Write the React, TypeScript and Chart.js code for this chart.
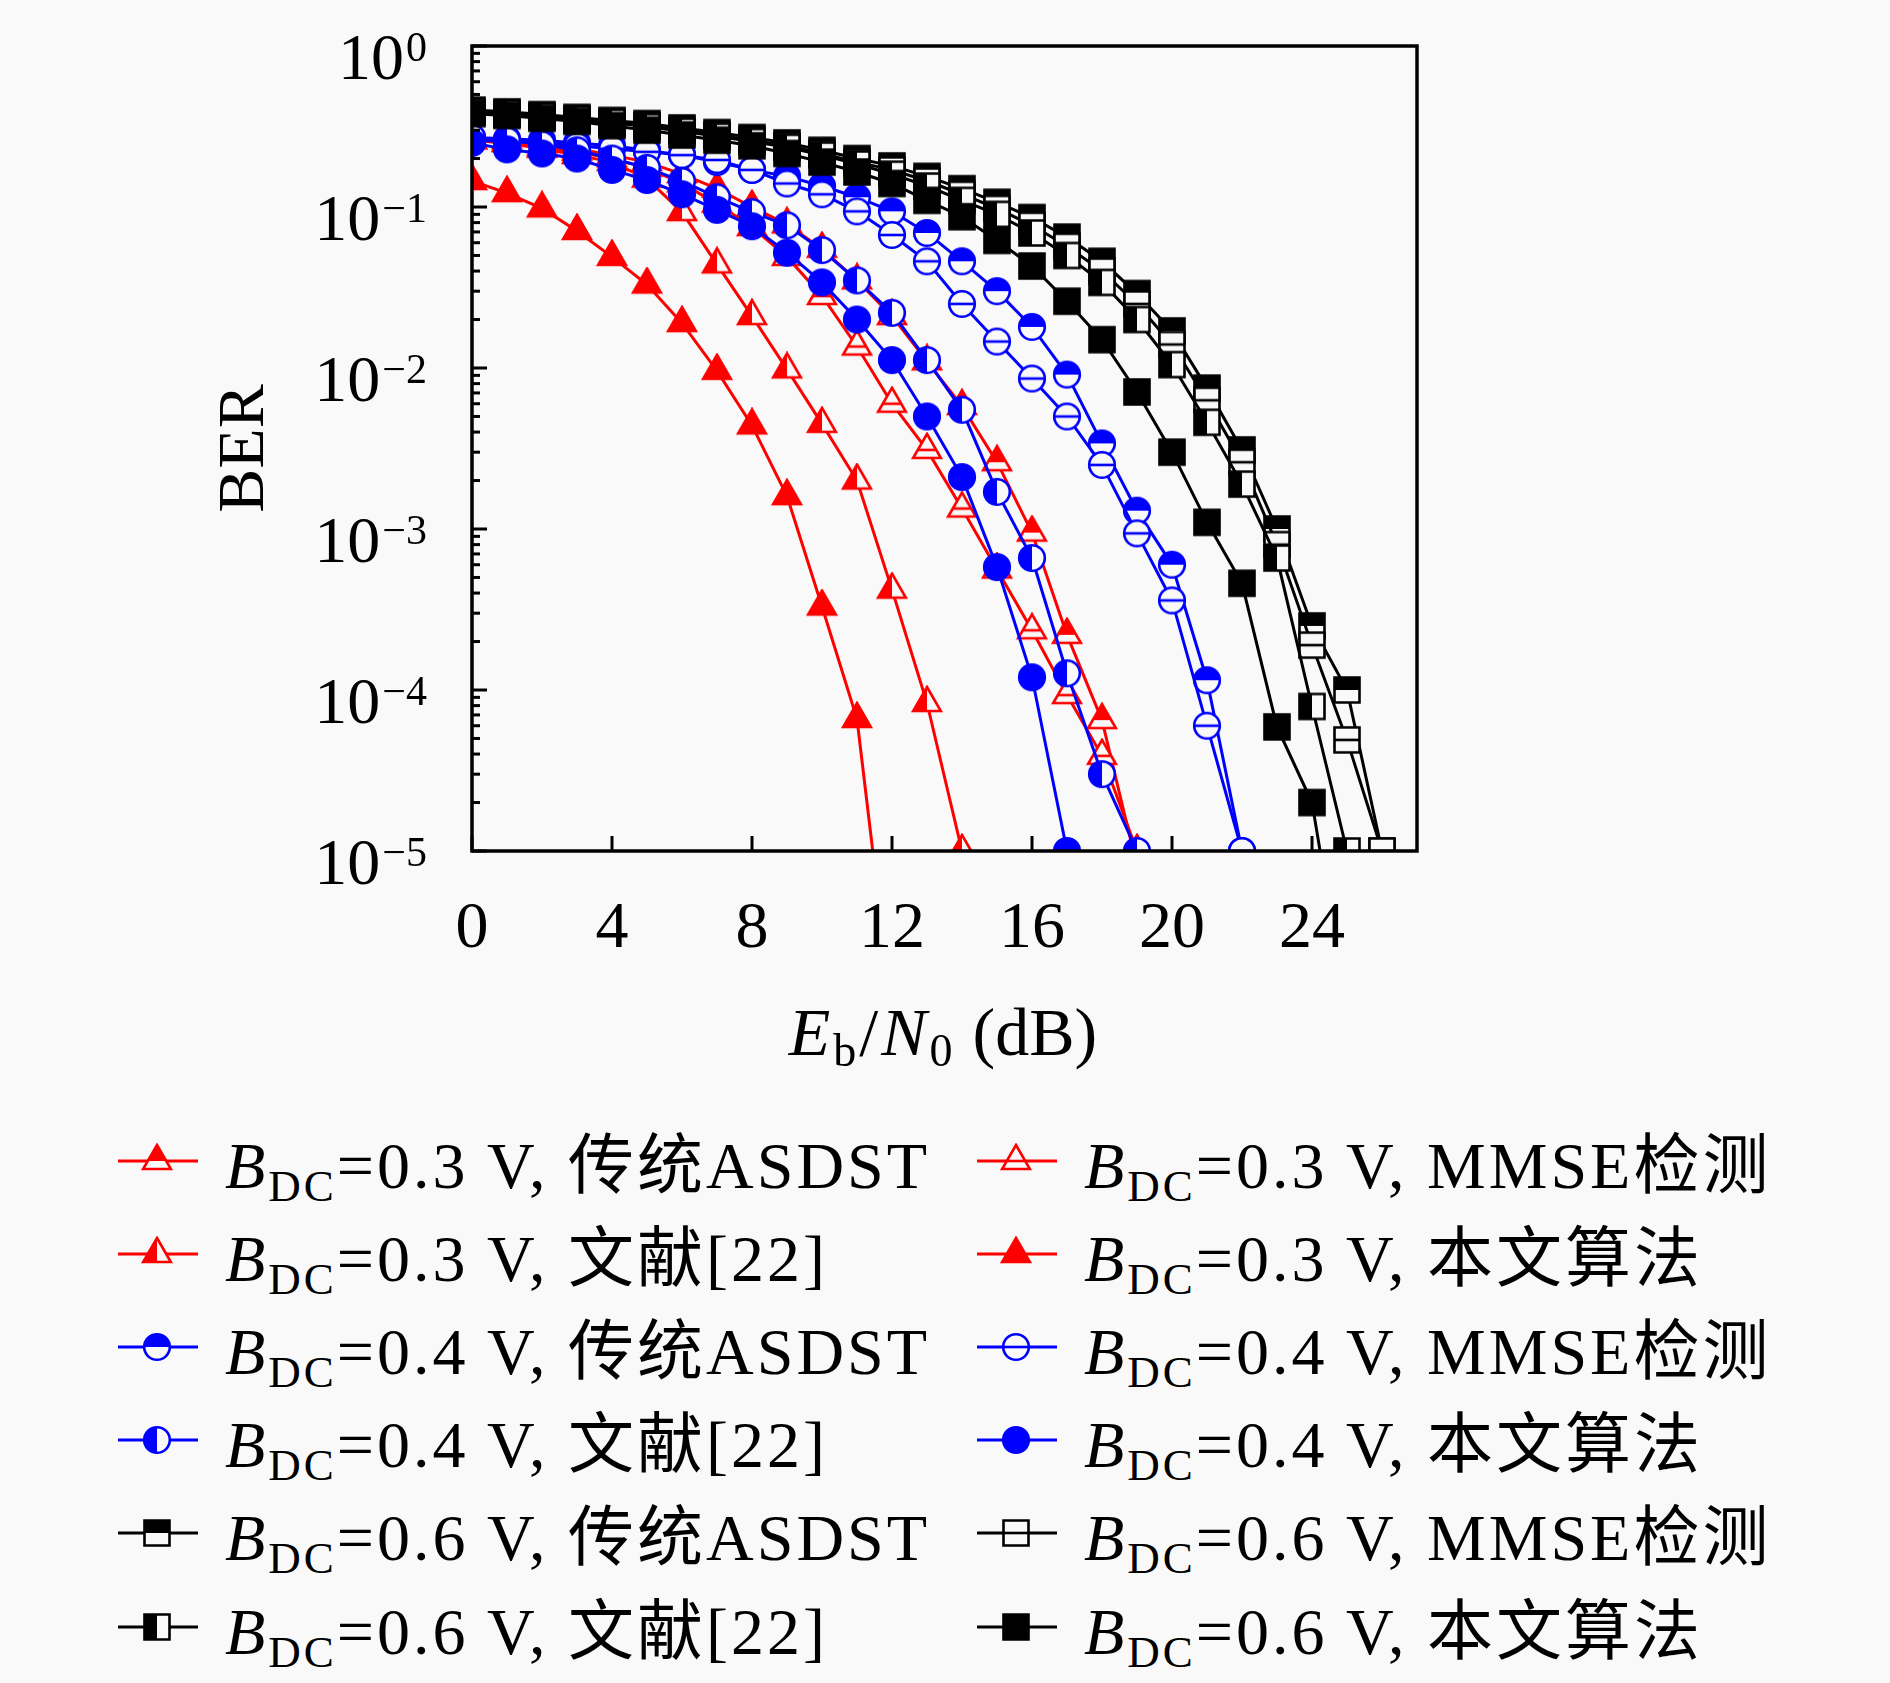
import React, { useEffect, useMemo, useRef } from 'react';
import { Chart, registerables } from 'chart.js';

Chart.register(...registerables);

// Eb/N0 grid (dB)
const snr = [0, 1, 2, 3, 4, 5, 6, 7, 8, 9, 10, 11, 12, 13, 14, 15, 16, 17, 18, 19, 20, 21, 22, 23, 24, 25, 26];
const xTicks = [0, 4, 8, 12, 16, 20, 24];
const yExps = [0, -1, -2, -3, -4, -5];

const voltages = ['0.3', '0.4', '0.6'];
const methods = ['传统ASDST', 'MMSE检测', '文献[22]', '本文算法'];

// B_DC = 0.3 V
const ber03Asdst = [0.27, 0.26, 0.245, 0.23, 0.21, 0.19, 0.16, 0.13, 0.1, 0.078, 0.055, 0.035, 0.021, 0.011, 0.0058, 0.0026, 0.00095, 0.00022, 0.000065, 0.000008];
const ber03Mmse = [0.26, 0.25, 0.235, 0.22, 0.2, 0.175, 0.14, 0.105, 0.075, 0.049, 0.028, 0.0136, 0.006, 0.0031, 0.00134, 0.00056, 0.000235, 0.000093, 0.000039, 0.00001];
const ber03Ref22 = [0.26, 0.25, 0.23, 0.21, 0.19, 0.15, 0.093, 0.044, 0.021, 0.0098, 0.0045, 0.002, 0.00042, 0.000083, 0.00001];
const ber03Prop = [0.145, 0.122, 0.098, 0.071, 0.049, 0.033, 0.019, 0.0096, 0.0044, 0.0016, 0.00033, 0.000066, 0.000001];

// B_DC = 0.4 V
const ber04Asdst = [0.27, 0.265, 0.26, 0.25, 0.24, 0.225, 0.21, 0.19, 0.17, 0.155, 0.135, 0.115, 0.094, 0.069, 0.046, 0.03, 0.018, 0.0091, 0.0034, 0.0013, 0.0006, 0.000115, 0.00001];
const ber04Mmse = [0.26, 0.255, 0.25, 0.24, 0.23, 0.22, 0.21, 0.196, 0.17, 0.14, 0.12, 0.094, 0.067, 0.046, 0.025, 0.0146, 0.0086, 0.005, 0.0025, 0.00094, 0.00036, 0.00006, 0.00001];
const ber04Ref22 = [0.27, 0.26, 0.245, 0.225, 0.2, 0.175, 0.145, 0.115, 0.093, 0.077, 0.054, 0.035, 0.022, 0.0112, 0.0055, 0.0017, 0.00066, 0.000127, 0.00003, 0.00001];
const ber04Prop = [0.25, 0.228, 0.215, 0.2, 0.17, 0.147, 0.12, 0.096, 0.076, 0.052, 0.034, 0.02, 0.0112, 0.005, 0.0021, 0.00058, 0.00012, 0.00001];

// B_DC = 0.6 V
const ber06Asdst = [0.4, 0.39, 0.375, 0.36, 0.345, 0.33, 0.31, 0.29, 0.27, 0.25, 0.225, 0.2, 0.18, 0.155, 0.13, 0.107, 0.086, 0.065, 0.046, 0.029, 0.017, 0.0075, 0.0031, 0.001, 0.00025, 0.0001, 0.00001];
const ber06Mmse = [0.39, 0.38, 0.365, 0.35, 0.335, 0.32, 0.3, 0.28, 0.26, 0.24, 0.215, 0.19, 0.17, 0.145, 0.12, 0.098, 0.077, 0.057, 0.04, 0.025, 0.014, 0.0063, 0.0026, 0.0008, 0.00019, 0.000049, 0.00001];
const ber06Ref22 = [0.39, 0.38, 0.365, 0.35, 0.335, 0.315, 0.295, 0.275, 0.255, 0.235, 0.21, 0.185, 0.16, 0.135, 0.11, 0.09, 0.069, 0.05, 0.034, 0.02, 0.0105, 0.0046, 0.0019, 0.00066, 0.000079, 0.00001];
const ber06Prop = [0.38, 0.37, 0.355, 0.34, 0.32, 0.3, 0.28, 0.26, 0.24, 0.215, 0.19, 0.165, 0.14, 0.11, 0.087, 0.062, 0.043, 0.026, 0.015, 0.0071, 0.003, 0.0011, 0.00046, 0.000059, 0.00002, 0.000001];

const berTable = [
    [ber03Asdst, ber03Mmse, ber03Ref22, ber03Prop],
    [ber04Asdst, ber04Mmse, ber04Ref22, ber04Prop],
    [ber06Asdst, ber06Mmse, ber06Ref22, ber06Prop],
];

type Shape = 'triangle' | 'circle' | 'square';
type Fill = 'top' | 'open' | 'left' | 'full';

const colors = ['#ff0000', '#0000ff', '#000000'];
const shapes: Shape[] = ['triangle', 'circle', 'square'];
const fills: Fill[] = ['top', 'open', 'left', 'full'];

const BG = '#f9f9f9';
const SERIF = '"Liberation Serif", "DejaVu Serif", serif';

function makeMarker(shape: Shape, fill: Fill, color: string): HTMLCanvasElement {
    const size = 36;
    const c = document.createElement('canvas');
    c.width = size;
    c.height = size;
    const g = c.getContext('2d')!;
    const cx = size / 2;
    const cy = size / 2;
    const path = () => {
        g.beginPath();
        if (shape === 'circle') {
            g.arc(cx, cy, 12.8, 0, Math.PI * 2);
        } else if (shape === 'square') {
            g.rect(cx - 12.5, cy - 12.5, 25, 25);
        } else {
            const r = 16;
            g.moveTo(cx, cy - r);
            g.lineTo(cx + r * Math.sin(Math.PI / 3), cy + r / 2);
            g.lineTo(cx - r * Math.sin(Math.PI / 3), cy + r / 2);
            g.closePath();
        }
    };
    path();
    g.fillStyle = BG;
    g.fill();
    g.fillStyle = color;
    if (fill === 'full') {
        path();
        g.fill();
    } else if (fill === 'top' || fill === 'left') {
        g.save();
        g.beginPath();
        if (fill === 'top') g.rect(0, 0, size, cy);
        else g.rect(0, 0, cx, size);
        g.clip();
        path();
        g.fill();
        g.restore();
    } else {
        g.save();
        path();
        g.clip();
        g.fillRect(0, cy - 1.3, size, 2.6);
        g.restore();
    }
    path();
    g.lineWidth = 2.6;
    g.strokeStyle = color;
    g.stroke();
    return c;
}

function makeIcon(shape: Shape, fill: Fill, color: string): string {
    const c = document.createElement('canvas');
    c.width = 80;
    c.height = 40;
    const g = c.getContext('2d')!;
    g.strokeStyle = color;
    g.lineWidth = 3;
    g.beginPath();
    g.moveTo(0, 20);
    g.lineTo(80, 20);
    g.stroke();
    const m = makeMarker(shape, fill, color);
    g.drawImage(m, 39 - m.width / 2, 20 - m.height / 2);
    return c.toDataURL();
}

const decorPlugin = {
    id: 'decor',
    afterDatasetsDraw(chart: any) {
        const { ctx, chartArea: a } = chart;
        const x = chart.scales.x;
        const y = chart.scales.y;
        ctx.save();
        ctx.strokeStyle = '#000';
        ctx.fillStyle = '#000';
        ctx.lineWidth = 3;
        const seg = (x1: number, y1: number, x2: number, y2: number) => {
            ctx.beginPath();
            ctx.moveTo(x1, y1);
            ctx.lineTo(x2, y2);
            ctx.stroke();
        };
        // inward ticks on the left (log minor + major)
        for (const e of yExps) {
            const py = y.getPixelForValue(Math.pow(10, e));
            seg(a.left, py, a.left + 15, py);
            if (e < 0) {
                for (let m = 2; m <= 9; m++) {
                    const pm = y.getPixelForValue(m * Math.pow(10, e));
                    seg(a.left, pm, a.left + 8, pm);
                }
            }
        }
        for (const t of xTicks) {
            const px = x.getPixelForValue(t);
            seg(px, a.bottom, px, a.bottom - 15);
        }
        ctx.lineWidth = 3.5;
        ctx.strokeRect(a.left, a.top, a.right - a.left, a.bottom - a.top);

        // tick labels
        ctx.textBaseline = 'alphabetic';
        ctx.textAlign = 'center';
        ctx.font = `66px ${SERIF}`;
        for (const t of xTicks) {
            ctx.fillText(String(t), x.getPixelForValue(t), a.bottom + 96);
        }
        ctx.textAlign = 'right';
        for (const e of yExps) {
            const py = y.getPixelForValue(Math.pow(10, e));
            const expText = e === 0 ? '0' : '\u2212' + String(-e);
            ctx.font = `42px ${SERIF}`;
            const ew = ctx.measureText(expText).width;
            const expRight = a.left - 45;
            ctx.fillText(expText, expRight, py + 15);
            ctx.font = `66px ${SERIF}`;
            ctx.fillText('10', expRight - ew - 2, py + 33);
        }

        // y title
        ctx.save();
        ctx.translate(263, (a.top + a.bottom) / 2);
        ctx.rotate(-Math.PI / 2);
        ctx.textAlign = 'center';
        ctx.font = `66px ${SERIF}`;
        ctx.fillText('BER', 0, 0);
        ctx.restore();

        // x title: E_b/N_0 (dB)
        const parts = [
            { t: 'E', f: `italic 68px ${SERIF}`, dy: 0 },
            { t: 'b', f: `46px ${SERIF}`, dy: 11 },
            { t: '/', f: `68px ${SERIF}`, dy: 0 },
            { t: 'N', f: `italic 68px ${SERIF}`, dy: 0 },
            { t: '0', f: `46px ${SERIF}`, dy: 11 },
            { t: ' (dB)', f: `68px ${SERIF}`, dy: 0 },
        ];
        ctx.textAlign = 'left';
        let w = 0;
        for (const p of parts) {
            ctx.font = p.f;
            w += ctx.measureText(p.t).width + 3;
        }
        let cx = (a.left + a.right) / 2 - w / 2;
        const base = a.bottom + 204;
        for (const p of parts) {
            ctx.font = p.f;
            ctx.fillText(p.t, cx, base + p.dy);
            cx += ctx.measureText(p.t).width + 3;
        }
        ctx.restore();
    },
};

const App: React.FC = () => {
    const chartRef = useRef<HTMLCanvasElement>(null);

    const icons = useMemo(
        () => voltages.map((_, vi) => fills.map((f) => makeIcon(shapes[vi], f, colors[vi]))),
        []
    );

    useEffect(() => {
        document.body.style.margin = '0';
        document.body.style.background = BG;
        if (!chartRef.current) return;

        const datasets: any[] = [];
        // black on top, then blue, then red (first dataset is drawn last)
        for (let vi = 2; vi >= 0; vi--) {
            for (const mi of [3, 2, 1, 0]) {
                const values = berTable[vi][mi];
                datasets.push({
                    label: `B_DC=${voltages[vi]} V, ${methods[mi]}`,
                    data: values.map((v, i) => ({ x: snr[i], y: v })),
                    borderColor: colors[vi],
                    backgroundColor: colors[vi],
                    borderWidth: 3,
                    pointStyle: makeMarker(shapes[vi], fills[mi], colors[vi]),
                    pointRadius: 14,
                    pointHoverRadius: 14,
                    tension: 0,
                });
            }
        }

        const myChart = new Chart(chartRef.current, {
            type: 'line',
            data: { datasets },
            options: {
                responsive: false,
                animation: false,
                events: [],
                layout: { padding: { left: 472, top: 46, right: 473, bottom: 249 } },
                scales: {
                    x: { type: 'linear', min: 0, max: 27, display: false },
                    y: { type: 'logarithmic', min: 1e-5, max: 1, display: false },
                },
                plugins: {
                    legend: { display: false },
                    tooltip: { enabled: false },
                },
            },
            plugins: [decorPlugin],
        });

        return () => {
            myChart.destroy();
        };
    }, []);

    const colX = [118, 977];
    const rowY = [1161, 1254, 1347, 1440, 1533, 1627];
    const legendItems: { vi: number; mi: number; row: number; col: number }[] = [];
    voltages.forEach((_, vi) => {
        legendItems.push({ vi, mi: 0, row: vi * 2, col: 0 });
        legendItems.push({ vi, mi: 1, row: vi * 2, col: 1 });
        legendItems.push({ vi, mi: 2, row: vi * 2 + 1, col: 0 });
        legendItems.push({ vi, mi: 3, row: vi * 2 + 1, col: 1 });
    });

    return (
        <div style={{ position: 'relative', width: 1890, height: 1683, background: BG, overflow: 'hidden' }}>
            <canvas ref={chartRef} width={1890} height={1100} style={{ display: 'block' }}></canvas>
            {legendItems.map((it) => (
                <React.Fragment key={`${it.vi}-${it.mi}`}>
                    <img
                        src={icons[it.vi][it.mi]}
                        width={80}
                        height={40}
                        style={{ position: 'absolute', left: colX[it.col], top: rowY[it.row] - 20 }}
                    />
                    <span
                        style={{
                            position: 'absolute',
                            left: colX[it.col] + 107,
                            top: rowY[it.row] - 28,
                            fontFamily: '"Liberation Serif", "Noto Sans CJK SC", serif',
                            fontSize: 66,
                            lineHeight: '66px',
                            letterSpacing: 3,
                            whiteSpace: 'nowrap',
                            color: '#000',
                        }}
                    >
                        <i>B</i>
                        <span style={{ fontSize: 45, verticalAlign: -13 }}>DC</span>={voltages[it.vi]} V, {methods[it.mi]}
                    </span>
                </React.Fragment>
            ))}
        </div>
    );
};

export default App;
